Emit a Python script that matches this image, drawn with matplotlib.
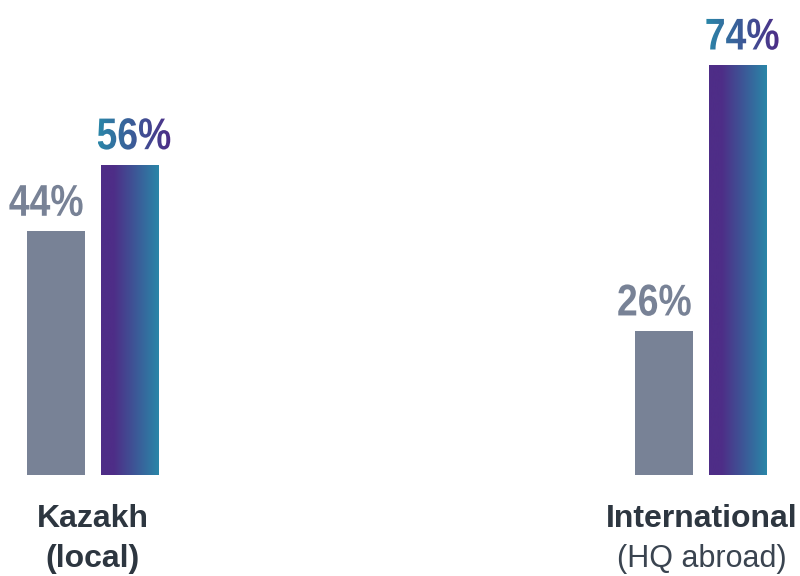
import numpy as np
import matplotlib
matplotlib.use("Agg")
from matplotlib import pyplot as plt
from matplotlib.colors import LinearSegmentedColormap
from matplotlib.textpath import TextPath
from matplotlib.font_manager import FontProperties
from matplotlib.transforms import Affine2D
from matplotlib.patches import PathPatch

# data
groups = ["Kazakh", "International"]
sub_labels = ["(local)", "(HQ abroad)"]
sub_bold = [True, False]
gray_vals = [44, 26]
grad_vals = [56, 74]

GRAY = "#788296"
PURPLE = "#4e2d87"
TEAL = "#2a86a8"
DARK = "#2d3640"

bar_cmap = LinearSegmentedColormap.from_list(
    "bar", [(0, PURPLE), (0.22, PURPLE), (1, TEAL)])
text_cmap = LinearSegmentedColormap.from_list("txt", [TEAL, PURPLE])

fig = plt.figure(figsize=(8, 5.76), dpi=100)
ax = fig.add_axes([0, 101 / 576, 1, 475 / 576])
ax.set_xlim(-0.1528, 1.1619)
ax.set_ylim(0, 85.7)
ax.axis("off")

x = np.arange(len(groups))
w = 0.0953
off = 0.0608

gray_bars = ax.bar(x - off, gray_vals, w, color=GRAY)
grad_bars = ax.bar(x + off, grad_vals, w, color="none")

gradient = np.linspace(0, 1, 256).reshape(1, -1)
for b in grad_bars:
    im = ax.imshow(gradient, cmap=bar_cmap, aspect="auto",
                   extent=(b.get_x(), b.get_x() + b.get_width(), 0, b.get_height()),
                   zorder=2)
    im.set_clip_path(b)

# condensed bold numbers: Liberation Sans Bold squeezed horizontally
fp = FontProperties(family="Liberation Sans", weight="bold")
fsize = 32
xsq = 0.84
px = fig.dpi / 72


def value_label(xc, val, dx=0, color=None, grad=False):
    s = f"{val}%"
    tp = TextPath((0, 0), s, size=fsize, prop=fp)
    bb = tp.get_extents()
    ax_x, ax_y = ax.transData.transform((xc, val))
    trans = (Affine2D().translate(-(bb.x0 + bb.x1) / 2, -bb.y0)
             .scale(px * xsq, px).translate(ax_x + dx, ax_y + 15))
    path = trans.transform_path(tp)
    ext = path.get_extents()
    if grad:
        inv = ax.transData.inverted()
        (x0, y0), (x1, y1) = inv.transform([(ext.x0, ext.y0), (ext.x1, ext.y1)])
        im = ax.imshow(gradient, cmap=text_cmap, aspect="auto",
                       extent=(x0, x1, y0, y1), zorder=3)
        im.set_clip_path(path, Affine2D())
    else:
        p = PathPatch(path, facecolor=color, edgecolor="none", zorder=3)
        p.set_transform(Affine2D())
        fig.add_artist(p)


for i in range(len(groups)):
    value_label(x[i] - off, gray_vals[i], dx=-10, color=GRAY)
    value_label(x[i] + off, grad_vals[i], dx=4, grad=True)
    ax.annotate(groups[i], (x[i], 0), xytext=(0, -37.4), textcoords="offset points",
                ha="center", va="baseline", fontsize=23, fontweight="bold",
                color=DARK, family="Liberation Sans")
    ax.annotate(sub_labels[i], (x[i], 0), xytext=(0, -66), textcoords="offset points",
                ha="center", va="baseline",
                fontsize=23 if sub_bold[i] else 22,
                fontweight="bold" if sub_bold[i] else "normal",
                color=DARK if sub_bold[i] else "#3a4450", family="Liberation Sans")

fig.savefig("out.png", dpi=100)
